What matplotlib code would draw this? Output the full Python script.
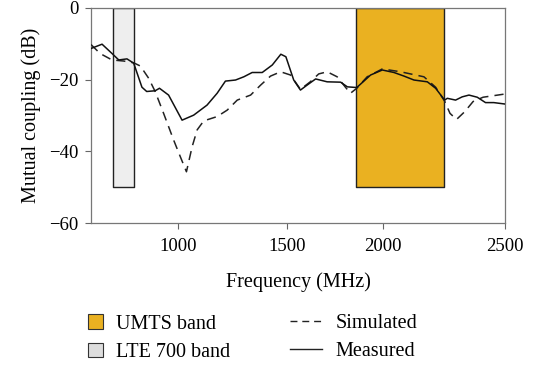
import numpy as np
import matplotlib
matplotlib.use("Agg")
import matplotlib.pyplot as plt
from matplotlib.patches import Patch
from matplotlib.lines import Line2D

# frequency axis in the figure is not evenly spaced between ticks
tick_freqs = [600, 1000, 1500, 2000, 2500]
tick_pos = [0.0, 86.6, 196.0, 292.0, 413.6]

meas_f = [600, 651, 697, 728, 766, 797, 835, 857, 896, 916, 958, 1020, 1073, 1134,
          1180, 1218, 1264, 1302, 1340, 1386, 1432, 1471, 1494, 1534, 1569, 1604,
          1648, 1708, 1778, 1813, 1862, 1934, 1995, 2044, 2085, 2126, 2181, 2215,
          2252, 2263, 2297, 2324, 2352, 2386, 2420, 2454, 2500]
meas_db = [-11.3, -10.1, -12.7, -14.5, -14.2, -15.4, -22.1, -23.3, -23.1, -22.4,
           -24.3, -31.3, -29.9, -27.1, -23.8, -20.4, -20.1, -19.2, -18.0, -18.0,
           -15.9, -12.9, -13.6, -20.1, -22.9, -21.5, -19.8, -20.6, -20.7, -22.0,
           -22.2, -18.7, -17.3, -18.0, -19.0, -20.1, -20.6, -22.4, -25.7, -25.2,
           -25.7, -24.8, -24.3, -24.9, -26.4, -26.4, -26.8]

sim_f = [600, 642, 697, 751, 797, 828, 866, 896, 935, 981, 1012, 1040, 1066, 1089,
         1119, 1180, 1226, 1272, 1333, 1379, 1424, 1470, 1517, 1569, 1620, 1664,
         1708, 1760, 1803, 1829, 1862, 1916, 1995, 2071, 2167, 2215, 2252, 2274,
         2301, 2335, 2369, 2410, 2500]
sim_db = [-10.2, -12.7, -14.5, -14.8, -15.3, -16.2, -19.6, -23.3, -29.4, -36.8,
          -41.5, -45.7, -38.7, -34.0, -31.5, -30.3, -28.5, -25.7, -24.3, -21.5,
          -19.0, -17.8, -18.7, -22.7, -20.6, -18.4, -17.8, -19.2, -22.1, -23.8,
          -22.4, -19.2, -17.0, -17.8, -19.2, -22.1, -26.0, -29.4, -31.1, -28.9,
          -26.1, -24.9, -24.0]

lte_band = (700, 800)
umts_band = (1860, 2250)
band_bottom = -50

umts_color = '#eab121'
lte_color = '#eeeeee'

plt.rcParams['font.family'] = ['Liberation Serif', 'DejaVu Serif']

fig = plt.figure(figsize=(5.37, 3.66), dpi=100)
ax = fig.add_axes([91/537, 1-223/366, 414/537, 215/366])

fwd = lambda f: np.interp(f, tick_freqs, tick_pos)
inv = lambda p: np.interp(p, tick_pos, tick_freqs)
ax.set_xscale('function', functions=(fwd, inv))

ax.fill_between(lte_band, band_bottom, 0, facecolor=lte_color, edgecolor='#222222', lw=1.0, zorder=1)
ax.fill_between(umts_band, band_bottom, 0, facecolor=umts_color, edgecolor='#222222', lw=1.0, zorder=1)
ax.plot(sim_f, sim_db, color='#222222', lw=1.1, ls=(0, (6, 4)), zorder=3)
ax.plot(meas_f, meas_db, color='#111111', lw=1.1, zorder=3)

ax.set_xlim(600, 2500)
ax.set_ylim(-60, 0)
ax.set_xticks([1000, 1500, 2000, 2500])
ax.set_xticklabels(['1000', '1500', '2000', '2500'])
ax.set_yticks([0, -20, -40, -60])
ax.set_yticklabels(['0', '\u221220', '\u221240', '\u221260'])
ax.tick_params(direction='out', length=4, width=0.8, color='#666666', labelsize=13.5)
ax.tick_params(axis='x', pad=7)
ax.tick_params(axis='y', pad=5)
for s in ax.spines.values():
    s.set_color('#777777')
    s.set_linewidth(0.9)
ax.set_xlabel('Frequency (MHz)', fontsize=14.5, labelpad=12)
ax.set_ylabel('Mutual coupling (dB)', fontsize=14.5, labelpad=6)

band_handles = [Patch(facecolor=umts_color, edgecolor='#333333', lw=0.8),
                Patch(facecolor='#dddddd', edgecolor='#333333', lw=0.8)]
line_handles = [Line2D([], [], color='#222222', lw=1.0, ls=(0, (5, 3.5))),
                Line2D([], [], color='#222222', lw=1.0)]
leg1 = fig.legend(band_handles, ['UMTS band', 'LTE 700 band'], loc='upper left',
                  bbox_to_anchor=(70/537, 1-296/366), frameon=False, fontsize=14.5,
                  handlelength=0.75, handleheight=0.75, labelspacing=0.45, handletextpad=0.65)
leg2 = fig.legend(line_handles, ['Simulated', 'Measured'], loc='upper left',
                  bbox_to_anchor=(272/537, 1-296/366), frameon=False, fontsize=14.5,
                  handlelength=1.6, labelspacing=0.45, handletextpad=0.65)

fig.savefig('out.png', dpi=100)
